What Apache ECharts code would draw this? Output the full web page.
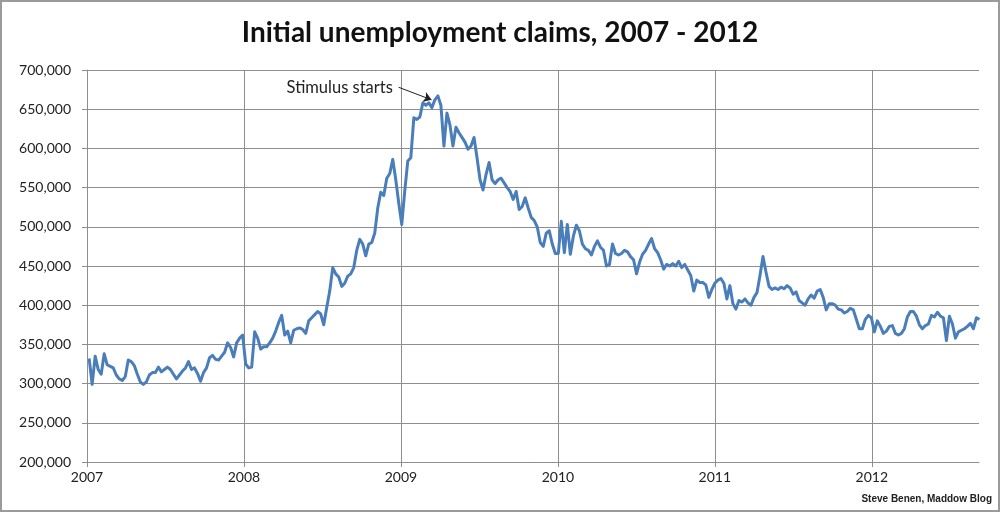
<!DOCTYPE html>
<html>
<head>
<meta charset="utf-8">
<script src="https://cdn.jsdelivr.net/npm/echarts@6/dist/echarts.min.js"></script>
<style>
html,body{margin:0;padding:0;background:#fff;}
#chart{width:1000px;height:512px;}
</style>
</head>
<body>
<div id="chart"></div>
<script>
// Weekly initial unemployment claims (thousands), week-ending Saturdays from 2007-01-06
const claims2007 = [332,299,335,318,312,338,324,322,320,311,306,304,309,330,328,323,312,302,299,302,311,314,314,321,315,318,321,318,312,306,311,316,320,328,318,320,313,303,314,320,333,336,331,330,335,340,352,346,334,352,358,362];
const claims2008 = [325,320,321,366,358,344,347,347,352,358,367,378,387,362,367,352,368,370,371,369,364,380,384,388,392,389,375,397,418,448,440,436,424,428,437,440,448,470,484,478,463,478,480,492,524,544,540,562,568,586,560,530];
const claims2009 = [503,546,584,588,639,637,640,658,655,658,652,662,667,655,603,645,630,603,627,620,614,608,599,603,614,588,560,547,567,582,560,555,560,562,556,550,545,535,545,522,526,537,524,512,508,500,480,475,492,495,478,466];
const claims2010 = [466,507,467,503,465,488,502,495,478,472,470,464,475,482,474,470,450,452,478,466,464,466,470,468,462,458,440,455,465,470,478,485,472,467,458,446,452,450,453,450,456,448,452,445,438,418,432,429,429,426,410,420];
const claims2011 = [428,432,434,428,408,425,402,395,406,404,408,403,400,410,416,438,462,442,424,420,422,420,423,421,425,422,414,417,406,403,400,408,413,409,418,420,410,394,402,402,400,395,394,390,392,396,394,382,370,370,382,387];
const claims2012 = [384,366,380,373,364,367,373,374,364,362,364,370,385,392,392,386,375,370,374,376,387,385,391,386,384,355,386,376,358,366,368,370,373,377,370,384,382];

const yearTicks = [2007, 2008, 2009, 2010, 2011, 2012];
const firstWeek = Date.UTC(2007, 0, 6);
const annotationText = 'Stimulus starts';

const allClaims = [].concat(claims2007, claims2008, claims2009, claims2010, claims2011, claims2012);
const DAY = 86400000;
function yearFrac(t) {
  const d = new Date(t);
  const y = d.getUTCFullYear();
  const s = Date.UTC(y, 0, 1), e = Date.UTC(y + 1, 0, 1);
  return y + (t - s) / (e - s);
}
const seriesData = allClaims.map((v, i) => [yearFrac(firstWeek + i * 7 * DAY), v * 1000]);

const chart = echarts.init(document.getElementById('chart'), null, {renderer: 'canvas'});
const gridColor = '#8e8e8e';
const fontFam = 'Lato, "Open Sans", sans-serif';
chart.setOption({
  backgroundColor: '#ffffff',
  animation: false,
  title: {
    text: 'Initial unemployment claims, 2007 - 2012',
    left: 'center',
    top: 14,
    textStyle: {fontFamily: fontFam, fontSize: 28, fontWeight: 'bold', color: '#111'}
  },
  grid: {left: 87, right: 21, top: 70, bottom: 50, containLabel: false},
  xAxis: {
    type: 'value',
    min: yearTicks[0],
    max: 2012.683,
    interval: 1,
    axisLine: {show: true, lineStyle: {color: gridColor, width: 1}},
    axisTick: {show: true, length: 5, lineStyle: {color: gridColor}},
    axisLabel: {
      margin: 8,
      color: '#222',
      fontFamily: fontFam,
      fontSize: 14,
      showMaxLabel: false,
      formatter: v => (yearTicks.indexOf(Math.round(v * 1000) / 1000) >= 0 ? String(v) : '')
    },
    splitLine: {show: true, showMinLine: false, showMaxLine: false, lineStyle: {color: gridColor, width: 1}}
  },
  yAxis: {
    type: 'value',
    min: 200000,
    max: 700000,
    interval: 50000,
    axisLine: {show: true, lineStyle: {color: gridColor, width: 1}},
    axisTick: {show: true, length: 5, lineStyle: {color: gridColor}},
    axisLabel: {
      margin: 16,
      color: '#222',
      fontFamily: fontFam,
      fontSize: 14,
      formatter: v => v.toLocaleString('en-US')
    },
    splitLine: {show: true, lineStyle: {color: gridColor, width: 1}}
  },
  series: [{
    type: 'line',
    data: seriesData,
    showSymbol: false,
    symbol: 'none',
    lineStyle: {color: '#4a7ebb', width: 3, join: 'round'},
    itemStyle: {color: '#4a7ebb'},
    z: 5,
    markLine: {
      silent: true,
      symbol: ['none', 'arrow'],
      symbolSize: 8,
      lineStyle: {color: '#222', width: 1, type: 'solid'},
      itemStyle: {color: '#222'},
      label: {show: false},
      data: [[{coord: [2008.985, 678000]}, {coord: [2009.195, 662000]}]]
    },
    markPoint: {
      silent: true,
      symbol: 'circle',
      symbolSize: 0,
      label: {
        show: true,
        position: 'inside',
        formatter: annotationText,
        color: '#222',
        fontFamily: fontFam,
        fontSize: 16.5
      },
      data: [{coord: [2008.61, 677000]}]
    }
  }],
  graphic: [
    {type: 'rect', shape: {x: 1, y: 1, width: 998, height: 510}, style: {fill: 'none', stroke: '#9a9a9a', lineWidth: 2}, silent: true},
    {type: 'text', right: 8, bottom: 8, style: {text: 'Steve Benen, Maddow Blog', font: 'bold 10px "Liberation Sans Narrow", "Liberation Sans", Arial, sans-serif', fill: '#222'}, silent: true}
  ]
});
</script>
</body>
</html>
